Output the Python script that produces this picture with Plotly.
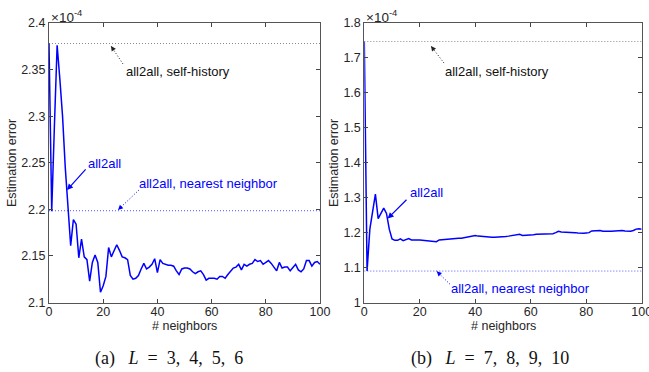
import plotly.graph_objects as go

W, H = 649, 372

neighbors = list(range(0, 101))

# Panel (a) L = 3,4,5,6  (values in units of 1e-4)
err_a = [2.378, 2.198, 2.29, 2.376, 2.34, 2.30, 2.245, 2.205, 2.161, 2.189,
         2.184, 2.148, 2.168, 2.149, 2.146, 2.123, 2.143, 2.151, 2.143, 2.111,
         2.118, 2.128, 2.159, 2.149, 2.156, 2.162, 2.156, 2.149, 2.148, 2.146,
         2.129, 2.125, 2.126, 2.129, 2.136, 2.142, 2.136, 2.138, 2.141, 2.147,
         2.132, 2.146, 2.142, 2.141, 2.140, 2.140, 2.139, 2.134, 2.130, 2.136,
         2.137, 2.137, 2.136, 2.133, 2.131, 2.133, 2.134, 2.130, 2.124, 2.126,
         2.126, 2.126, 2.125, 2.128, 2.128, 2.126, 2.130, 2.134, 2.137, 2.138,
         2.141, 2.135, 2.141, 2.139, 2.141, 2.142, 2.146, 2.144, 2.145, 2.141,
         2.143, 2.145, 2.142, 2.138, 2.134, 2.143, 2.137, 2.138, 2.138, 2.134,
         2.137, 2.141, 2.135, 2.133, 2.136, 2.145, 2.145, 2.139, 2.143, 2.144,
         2.141]
self_hist_a = 2.378
nearest_a = 2.1985

# Panel (b) L = 7,8,9,10  (values in units of 1e-4)
err_b = [1.747, 1.09, 1.21, 1.26, 1.31, 1.24, 1.255, 1.27, 1.255, 1.21,
         1.182, 1.178, 1.178, 1.182, 1.177, 1.181, 1.183, 1.179, 1.180, 1.179,
         1.179, 1.178, 1.178, 1.177, 1.177, 1.176, 1.174, 1.179, 1.180, 1.181,
         1.182, 1.182, 1.183, 1.183, 1.184, 1.184, 1.186, 1.188, 1.190, 1.191,
         1.192, 1.190, 1.189, 1.190, 1.189, 1.188, 1.187, 1.187, 1.187, 1.188,
         1.188, 1.189, 1.190, 1.191, 1.191, 1.192, 1.195, 1.192, 1.192, 1.192,
         1.193, 1.194, 1.195, 1.195, 1.196, 1.196, 1.196, 1.197, 1.197, 1.200,
         1.204, 1.202, 1.202, 1.202, 1.201, 1.200, 1.200, 1.199, 1.198, 1.198,
         1.199, 1.200, 1.205, 1.206, 1.205, 1.206, 1.204, 1.205, 1.204, 1.204,
         1.205, 1.205, 1.205, 1.206, 1.205, 1.204, 1.204, 1.206, 1.210, 1.211,
         1.210]
self_hist_b = 1.747
nearest_b = 1.090

yticks_a = [2.1, 2.15, 2.2, 2.25, 2.3, 2.35, 2.4]
yticks_b = [1.0, 1.1, 1.2, 1.3, 1.4, 1.5, 1.6, 1.7, 1.8]
xticks = [0, 20, 40, 60, 80, 100]

BLUE = "#0000ff"
TXT = "#262626"
FONT = "Liberation Sans, Arial, sans-serif"

fig = go.Figure()

for xa, ya, err, sh, nn in [("x", "y", err_a, self_hist_a, nearest_a),
                            ("x2", "y2", err_b, self_hist_b, nearest_b)]:
    fig.add_trace(go.Scatter(x=[neighbors[0], neighbors[-1]], y=[sh, sh], mode="lines",
                             line=dict(color="#888888", width=1, dash="1px,2px"),
                             xaxis=xa, yaxis=ya, showlegend=False, hoverinfo="skip"))
    fig.add_trace(go.Scatter(x=[neighbors[0], neighbors[-1]], y=[nn, nn], mode="lines",
                             line=dict(color="#5555ff", width=1, dash="1px,2px"),
                             xaxis=xa, yaxis=ya, showlegend=False, hoverinfo="skip"))
    fig.add_trace(go.Scatter(x=neighbors, y=err, mode="lines",
                             line=dict(color=BLUE, width=1.5),
                             xaxis=xa, yaxis=ya, showlegend=False))

axis_common = dict(showgrid=False, zeroline=False, showline=True, linecolor="#555555",
                   linewidth=1, mirror="allticks", ticks="inside", ticklen=4,
                   tickcolor="#444444", automargin=False, ticklabeloverflow="allow",
                   tickfont=dict(family=FONT, size=12.5, color=TXT))

y0p, y1p = 1 - 302.5 / H, 1 - 23 / H
fig.update_layout(
    width=W, height=H, margin=dict(l=0, r=0, t=0, b=0, autoexpand=False),
    paper_bgcolor="white", plot_bgcolor="white",
    xaxis=dict(domain=[49 / W, 320 / W], range=[0, 100], tickvals=xticks, anchor="y",
               ticklabelstandoff=-3, **axis_common),
    yaxis=dict(domain=[y0p, y1p], range=[2.1, 2.4], tickvals=yticks_a, anchor="x", **axis_common),
    xaxis2=dict(domain=[364.3 / W, 641.7 / W], range=[0, 100], tickvals=xticks, anchor="y2",
                ticklabelstandoff=-3, **axis_common),
    yaxis2=dict(domain=[y0p, y1p], range=[1.0, 1.8], tickvals=yticks_b, anchor="x2", **axis_common),
)

def px_to_paper(px, py):
    return px / W, 1 - py / H

ann = []
def text_at(px, py, text, color=TXT, size=13, angle=0, family=FONT, xanchor="center"):
    x, y = px_to_paper(px, py)
    ann.append(dict(x=x, y=y, xref="paper", yref="paper", text=text, showarrow=False,
                    xanchor=xanchor, yanchor="middle", textangle=angle,
                    font=dict(family=family, size=size, color=color)))

# axis titles
text_at(12, 163, "Estimation error", size=12.5, angle=-90)
text_at(334, 163, "Estimation error", size=12.5, angle=-90)
text_at(184.5, 326, "# neighbors", size=12.5)
text_at(503, 326, "# neighbors", size=12.5)
# exponent labels
text_at(49, 16, "×10<sup>-4</sup>", size=13.5, xanchor="left")
text_at(364, 16, "×10<sup>-4</sup>", size=13.5, xanchor="left")
# captions
SERIF = "Liberation Serif, DejaVu Serif, serif"
text_at(168.5, 358, "(a)\u2002\u2005<i>L</i>\u2002=\u20023,\u20024,\u20025,\u20026",
        size=18, family=SERIF, color="#111111")
text_at(490, 358, "(b)\u2002\u2005<i>L</i>\u2002=\u20027,\u20028,\u20029,\u200210",
        size=18, family=SERIF, color="#111111")

# labels
text_at(178, 71, "all2all, self-history", color="#111111")
text_at(104.7, 163.3, "all2all", color=BLUE)
text_at(208.3, 183.3, "all2all, nearest neighbor", color=BLUE)
text_at(497.3, 71, "all2all, self-history", color="#111111")
text_at(426, 192.7, "all2all", color=BLUE)
text_at(520, 288.3, "all2all, nearest neighbor", color=BLUE)

shapes = []
def arrow(xa, tip, tail, color, dotted):
    # tip/tail in pixel coords of the figure, converted to data coords
    dx, dy = tail[0] - tip[0], tail[1] - tip[1]
    xr = "x" if xa == "x" else "x2"
    yr = "y" if xa == "x" else "y2"
    if xa == "x":
        tx = (tip[0] - 49) / 2.71
        ty = 2.4 - (tip[1] - 23) / 932.0
        lx = (tail[0] - 49) / 2.71
        ly = 2.4 - (tail[1] - 23) / 932.0
    else:
        tx = (tip[0] - 364.3) / 2.774
        ty = 1.8 - (tip[1] - 23) / 349.0
        lx = (tail[0] - 364.3) / 2.774
        ly = 1.8 - (tail[1] - 23) / 349.0
    if dotted:
        shapes.append(dict(type="line", xref=xr, yref=yr, x0=lx, y0=ly, x1=tx, y1=ty,
                           line=dict(color=color, width=1, dash="1px,2px")))
        n = (dx * dx + dy * dy) ** 0.5
        ann.append(dict(x=tx, y=ty, xref=xr, yref=yr, ax=dx / n * 5, ay=dy / n * 5,
                        text="", showarrow=True, arrowhead=2, arrowsize=1,
                        arrowwidth=1, arrowcolor=color))
    else:
        ann.append(dict(x=tx, y=ty, xref=xr, yref=yr, ax=dx, ay=dy,
                        text="", showarrow=True, arrowhead=2, arrowsize=1,
                        arrowwidth=1.2, arrowcolor=color))

arrow("x", (111, 46), (123, 64), "#222222", True)
arrow("x", (118, 210), (139, 190), BLUE, True)
arrow("x", (67, 190), (87, 168), BLUE, False)
arrow("x2", (431, 46), (444, 63), "#222222", True)
arrow("x2", (436.7, 271), (450, 284), BLUE, True)
arrow("x2", (387.7, 218.3), (408, 198), BLUE, False)

fig.update_layout(annotations=ann, shapes=shapes)
fig.write_html("out.html", config={"displayModeBar": False},
               post_script="document.body.style.margin='0';document.body.style.padding='0';document.body.style.overflow='hidden';")
